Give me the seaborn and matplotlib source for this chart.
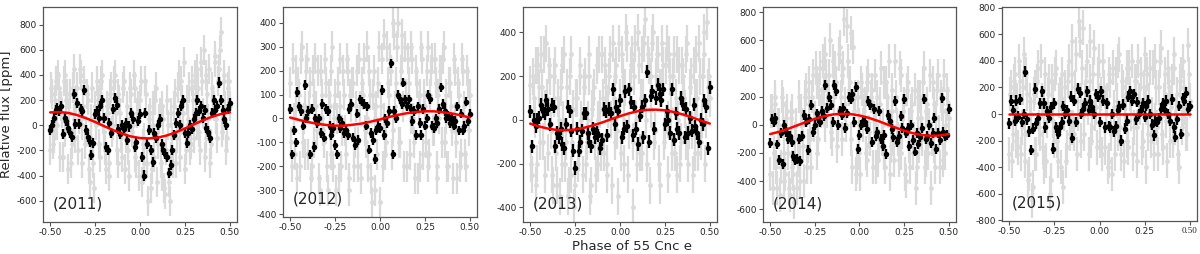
import numpy as np
import pandas as pd
import matplotlib
matplotlib.use("Agg")
import matplotlib.pyplot as plt
import seaborn as sns

years = ["2011", "2012", "2013", "2014", "2015"]
phase = np.linspace(-0.5, 0.5, 101)      # phase bin centres
fit_phase = np.linspace(-0.5, 0.5, 21)

# binned points (black), ppm
black_2011 = [-40, 0, 60, 120, 140, 110, 150, -70, 60, 30,
              -20, -60, -90, 250, 10, 180, 10, 130, 110, 280,
              -40, -90, -130, -240, -140, 90, 110, 60, 150, 200,
              60, -170, -200, 20, -60, 130, 220, 160, -30, -70,
              0, -30, 20, -120, -10, 100, 50, -170, -130, 30,
              90, -250, -400, 100, -150, -40, -200, -290, -60, -100,
              0, 50, -150, -200, -230, -250, -380, -320, -200, -80,
              20, 100, 0, 150, 200, -60, -140, -60, 0, -30,
              50, 100, 200, 110, 150, 60, 120, -20, -50, -100,
              100, 200, 120, 150, 340, 200, 120, 50, 0, 130, 180]
black_2012 = [40, -150, -50, -100, 110, 50, 30, -30, 140, 0,
              30, -150, 40, -120, 0, -20, 0, -60, 60, -80,
              40, 30, -30, -70, -40, -110, -150, 0, -40, -20,
              -60, -50, -70, 40, 60, -80, -110, 20, -90, 80,
              70, 60, -30, 50, -130, -60, -90, -170, -50, -30,
              -40, 120, -70, 0, -20, 30, 230, -150, 30, 0,
              100, 80, 60, 150, 80, 50, 80, 40, -10, 30,
              -70, 50, -20, -70, 40, -30, 0, 100, 80, -30,
              -40, 0, -20, 40, 130, 60, 30, 0, 10, -20,
              0, -30, -10, 50, -50, 20, -50, -30, 70, -10, 20]
black_2013 = [40, -120, 0, -30, 0, 10, 70, 40, 30, 90,
              50, -20, 70, 60, -120, -60, -80, -40, -110, -130,
              -20, 60, 40, -50, -140, -220, -40, -140, -100, -50,
              30, 30, -60, -100, -120, -40, -80, -60, -70, -130,
              -90, 50, 40, -70, 50, 30, 140, -20, 60, 40,
              90, -80, -40, 130, -30, 140, 80, -70, 60, -40,
              -110, 20, 60, -80, 90, 220, -100, 110, 130, -40,
              100, 160, 120, 90, 140, -20, 40, 0, -60, 140,
              -90, 30, -40, -60, 100, 70, -80, 50, -60, 10,
              -50, 70, -30, -60, -100, 0, -20, 90, 60, -130, 150]
black_2014 = [-130, 40, 20, 50, -140, -250, -60, -280, 0, -50,
              -100, -80, -120, -220, -250, -240, -100, -260, -80, 70,
              20, -180, 40, 140, -50, 0, 80, 50, 20, 100,
              60, 280, 120, 200, 140, 20, 280, 240, 0, 100,
              70, 120, -20, 80, 200, 180, 220, 20, 270, -170,
              -70, 0, 30, 20, -30, 170, 140, -120, 110, -80,
              -50, 100, -100, -150, -70, -210, 70, 30, -30, -90,
              170, -120, -80, 60, -20, 180, -60, -20, -150, 0,
              -110, -190, -60, -140, -90, -20, 180, -100, -80, 0,
              -130, -60, 50, -170, -60, -110, 190, -50, -80, -70, 110]
black_2015 = [-70, 100, 30, -50, 100, -20, 110, -60, 0, 320,
              -40, -130, -270, -110, 190, -70, -30, 80, 170, 80,
              -100, 20, -30, 50, -260, 80, -100, -150, -100, -60,
              60, 0, 30, -50, 130, -180, 100, -60, 190, 160,
              0, 40, 80, 170, 30, 100, 50, 0, 150, 130,
              -60, 170, 100, -100, 80, -90, -100, 0, -130, -90,
              30, 60, -200, 70, -110, -50, 130, 170, 100, 150,
              -40, 90, 0, 30, 80, -20, 60, 100, 0, -80,
              -160, -50, -60, -30, 40, 80, 30, 100, 0, -50,
              110, -100, -170, -40, 60, -150, 120, 100, 160, 40, 60]

# unbinned points (grey), ppm -- one set on the bin centres ...
grey_2011 = [-200, 250, -100, 350, 0, 300, 150, -250, 400, 200,
             -350, 250, -150, 450, -100, 300, 50, 400, -300, 350,
             -50, 200, -450, -100, -300, 150, 350, -150, 250, 400,
             -50, -350, 100, -300, 300, 0, 400, -200, 250, 100,
             -250, 350, -100, 50, -400, 250, 0, 300, -300, 150,
             200, -450, -100, 350, -300, 50, -500, 150, -250, 300,
             -150, 100, -400, 50, -550, 200, -450, -250, -100, 150,
             -300, 300, -50, 350, 100, -350, 200, 0, -200, 350,
             -100, 250, 450, -50, 500, 100, -250, 400, 50, -300,
             300, 150, 550, -100, 450, 740, 0, 350, -200, 300, 150]
grey_2012 = [150, -200, 0, 200, -250, 100, 250, -100, 50, 200,
             -150, 150, -200, 100, 250, -50, -250, 200, 0, -100,
             150, -300, 50, 200, -200, 100, 0, -250, 250, -50,
             100, -150, 200, -300, 50, 150, -100, 200, -200, 50,
             150, 250, -100, 0, 200, -250, 100, -300, 50, 150,
             -350, 250, 0, -150, 300, 100, 200, -50, 350, 150,
             400, -100, 250, 50, 300, -200, 150, 0, 250, -100,
             200, -250, 100, 300, -150, 50, 200, -200, 100, 250,
             -50, 150, -250, 0, 200, 250, -100, 100, -200, 150,
             -50, 250, 0, -250, 100, -150, 200, 50, -200, 150, 100]
grey_2013 = [160, -250, 100, 250, -200, 150, 300, -100, 50, 350,
             -150, 200, -250, 100, 250, -300, 0, 150, -200, 300,
             -100, -350, 200, -250, 50, -300, 100, -150, 250, -50,
             150, -200, 0, 200, -300, 100, -100, 250, -200, 50,
             300, -150, 150, -250, 200, 0, 350, -100, 250, -350,
             100, 300, -200, 150, 350, -50, 250, -400, 200, 0,
             400, -150, 300, 100, 460, -200, 250, 50, 350, -100,
             200, 300, -300, 150, 250, -50, 350, 0, 200, -150,
             300, 100, -250, 250, -100, 200, 50, 300, -200, 150,
             -50, 250, -150, 100, 350, -100, 200, 400, 0, 150, 100]
grey_2014 = [-350, 100, -200, 200, -450, 0, -300, 150, -400, 50,
             -200, -500, 100, -350, -100, -450, 200, -250, 0, -400,
             250, -150, 150, -300, 350, 50, 300, -100, 400, 150,
             250, 500, 100, 350, -50, 450, 200, 300, 0, 550,
             -100, 400, 150, 700, 250, 650, -300, 100, -350, 200,
             -200, 300, 0, 150, -250, 350, -100, 250, 50, -300,
             200, -150, 400, 0, -200, 300, 100, -350, 250, -100,
             450, 0, -250, 350, -50, 150, -400, 300, -150, 100,
             -200, 250, -300, 50, 200, -100, 400, -250, 150, 0,
             -450, 300, -150, 50, 350, -300, 150, 100, -200, 250, 50]
grey_2015 = [-300, 200, -150, 300, 50, -250, 250, -100, 450, -350,
             150, -450, 0, -550, 200, -300, 350, -150, 100, -400,
             300, -50, 250, -500, 100, -200, 350, -350, 150, 50,
             -550, 200, -250, 400, -100, 300, -150, 450, 0, 550,
             -200, 650, 100, 400, -300, 250, -100, 500, 50, 300,
             -200, 150, 400, -250, 100, -350, 250, -450, 50, 300,
             -150, 450, -300, 200, 0, 350, -250, 150, 400, -100,
             250, -350, 100, 300, -200, 450, 50, -150, 350, 0,
             -300, 400, -100, 200, 500, -250, 150, -50, 350, -200,
             250, 450, -100, 150, -400, 300, 0, 200, -150, 520, 100]

# ... and one set half a bin to the right
grey2_2011 = [300, -150, 200, 0, 400, -250, 100, 350, -50, 250,
              100, -300, 300, 50, 200, -200, 450, 0, 150, -150,
              250, -350, 50, 300, -500, 0, 200, -250, 350, 50,
              -200, 150, -400, 250, -50, 350, 100, -300, 200, -100,
              300, -350, 150, -200, 300, -50, 400, -250, 100, -400,
              350, -150, -300, 250, -600, 100, -350, 0, 200, -450,
              50, -300, 150, -500, -200, 0, -600, 100, -300, 250,
              -100, 400, -250, 200, 500, -200, 50, 300, -150, 200,
              400, 0, 300, -200, 350, 600, -100, 250, 450, -150,
              200, 500, 50, 350, 600, -50, 400, 150, -100, 350]
grey2_2012 = [-100, 250, -150, 50, 150, -200, 300, 0, -150, 250,
              50, -250, 200, -100, 50, 200, -300, 100, -50, 250,
              -200, 100, -150, 300, 0, -300, 150, 50, -200, 200,
              -50, 250, -250, 100, 150, -200, 50, -100, 250, -250,
              100, -50, 300, -200, 100, -350, 200, 0, -150, 300,
              50, -200, 350, -100, 150, 250, -150, 400, 50, 300,
              -100, 200, 350, -200, 100, 250, -150, 300, 0, -250,
              150, 50, -200, 250, 100, -100, 300, -150, 200, -50,
              250, -200, 100, 200, -100, 300, 0, -200, 150, 50,
              -250, 200, -100, 150, -200, 250, 0, -150, 200, -50]
grey2_2013 = [-200, 200, 0, -300, 250, -100, 150, 300, -250, 100,
              250, -50, -300, 200, -150, 100, -350, 250, 0, -200,
              150, -300, 300, -100, -400, 100, -200, 200, 0, -250,
              200, -100, 300, -350, 50, 150, -250, 0, 300, -150,
              100, 250, -200, 50, 300, -300, 100, 200, -50, 350,
              -150, 200, 0, 400, -250, 150, 300, -100, 350, -200,
              250, 100, -150, 350, 0, 300, -300, 200, 400, -50,
              300, -200, 150, 350, -100, 250, -250, 300, 50, 200,
              -150, 300, 0, -200, 250, 100, -100, 350, -50, 200,
              -250, 100, 300, -150, 200, 0, 300, -200, 450, 200]
grey2_2014 = [100, -450, 150, -300, 0, -500, 200, -200, -350, 100,
              -450, 50, -300, -550, 0, -250, -400, 100, -150, 200,
              -300, 300, -100, 200, 0, 400, -200, 250, 100, 450,
              0, 350, 200, 600, -100, 300, 400, -150, 500, 200,
              350, 750, 0, 450, 300, -100, 550, 200, -300, 0,
              -350, 250, 100, -200, 300, -50, 200, -300, 350, 0,
              -250, 150, -100, 300, -300, 200, 450, -150, 100, -250,
              200, -100, 400, -200, 100, -350, 250, 0, -300, 150,
              -100, -450, 200, -150, 50, 300, -300, 100, -200, 350,
              -100, 150, -300, 250, -50, 200, -250, 350, 0, 150]
grey2_2015 = [150, -350, 250, -200, 100, 400, -300, 200, -150, 300,
              -500, 100, -650, 150, -300, 250, -100, 400, -250, 50,
              -350, 150, -600, 250, -50, 300, -200, 100, -400, 300,
              0, -350, 250, -150, 550, -100, 200, -300, 700, 100,
              350, -150, 250, 50, 550, -200, 300, 0, -250, 400,
              100, -300, 200, 50, -400, 300, -150, 350, -300, 100,
              400, -100, 250, -350, 150, -200, 350, 0, -300, 250,
              -100, 400, 50, -250, 200, -400, 300, 100, -200, 350,
              -50, 200, -300, 400, -150, 100, 300, -350, 200, 50,
              -200, 350, 0, -300, 250, -100, 400, 50, -150, 300]

# red model curve read at 21 phases
fit_2011 = [102, 105, 98, 81, 56, 26, -7, -39, -67, -89, -102,
            -105, -98, -81, -56, -26, 7, 39, 67, 89, 102]
fit_2012 = [4, -6, -15, -22, -27, -30, -30, -26, -21, -13, -4,
            6, 15, 22, 27, 30, 30, 26, 21, 13, 4]
fit_2013 = [-17, -30, -40, -46, -47, -44, -36, -25, -12, 3, 17,
            30, 40, 46, 47, 44, 36, 25, 12, -3, -17]
fit_2014 = [-66, -50, -29, -5, 19, 42, 60, 73, 78, 76, 66,
            50, 29, 5, -19, -42, -60, -73, -78, -76, -66]
fit_2015 = [0] * 21

black_err = [40, 20, 30, 35, 40]
grey_err = [120, 65, 85, 120, 130]
ylims = [(-770, 940), (-410, 465), (-467, 516), (-690, 835), (-805, 805)]
yticks = [range(-600, 801, 200), range(-400, 401, 100), range(-400, 401, 200),
          range(-600, 801, 200), range(-800, 801, 200)]
# axes boxes in figure fraction [left, bottom, width, height]
boxes = [[0.0358, 0.126, 0.1617, 0.846], [0.2358, 0.147, 0.1617, 0.825],
         [0.4358, 0.126, 0.1617, 0.846], [0.6358, 0.126, 0.1608, 0.846],
         [0.8350, 0.130, 0.1625, 0.842]]

blacks = [black_2011, black_2012, black_2013, black_2014, black_2015]
greys = [grey_2011, grey_2012, grey_2013, grey_2014, grey_2015]
greys2 = [grey2_2011, grey2_2012, grey2_2013, grey2_2014, grey2_2015]
fits = [fit_2011, fit_2012, fit_2013, fit_2014, fit_2015]

sns.set_style("white")
plt.rcParams["font.family"] = ["DejaVu Sans"]
plt.rcParams["axes.unicode_minus"] = False

fig = plt.figure(figsize=(12, 2.54), dpi=100)
grey_c = "#dadada"

for k, yr in enumerate(years):
    ax = fig.add_axes(boxes[k])
    df = pd.DataFrame({"phase": phase, "black": blacks[k], "grey": greys[k]})
    g2 = pd.DataFrame({"phase": phase[:-1] + 0.005, "grey": greys2[k]})
    for g in (df, g2):
        ax.errorbar(g["phase"], g["grey"], yerr=grey_err[k], xerr=0.005, fmt="none",
                    ecolor=grey_c, elinewidth=1.6, zorder=1)
        sns.scatterplot(data=g, x="phase", y="grey", color=grey_c, s=12, linewidth=0,
                        ax=ax, zorder=2)
    ax.errorbar(df["phase"], df["black"], yerr=black_err[k], xerr=0.006, fmt="none",
                ecolor="black", elinewidth=1.7, zorder=3)
    sns.scatterplot(data=df, x="phase", y="black", color="black", s=16, linewidth=0,
                    ax=ax, zorder=4)
    sns.lineplot(x=fit_phase, y=fits[k], color="red", linewidth=1.8, ax=ax, zorder=5)

    ax.set_xlim(-0.54, 0.54)
    ax.set_ylim(*ylims[k])
    ax.set_xticks([-0.5, -0.25, 0, 0.25, 0.5])
    ax.set_xticklabels(["-0.50", "-0.25", "0.00", "0.25", "0.50"])
    ax.set_yticks(list(yticks[k]))
    ax.tick_params(axis="both", direction="out", length=3, width=0.8, color="#555555",
                   labelsize=6.5, pad=1.5, bottom=True, left=True)
    for s in ax.spines.values():
        s.set_color("#555555")
        s.set_linewidth(0.9)
    ax.set_xlabel("")
    ax.set_ylabel("")
    ax.text(0.05, 0.05, "(" + yr + ")", transform=ax.transAxes, fontsize=11,
            ha="left", va="bottom")
    if k == 0:
        ax.set_ylabel("Relative flux [ppm]", fontsize=9.5, labelpad=2)
    if k == 2:
        ax.set_xlabel("Phase of 55 Cnc e", fontsize=9.5)
        ax.xaxis.set_label_coords(0.56, -0.082)
    if k == 4:
        ax.get_xticklabels()[-1].set_family("Liberation Serif")

fig.savefig("out.png", dpi=100)
